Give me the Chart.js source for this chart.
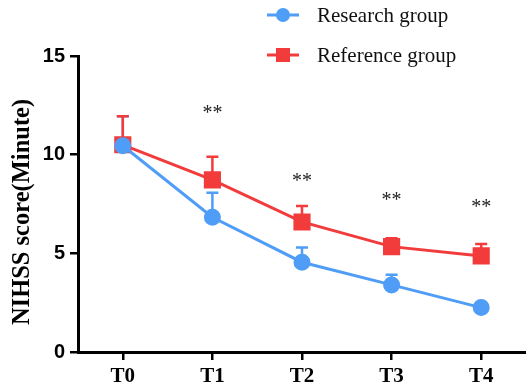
<!DOCTYPE html>
<html>
<head>
<meta charset="utf-8">
<script src="https://cdn.jsdelivr.net/npm/chart.js@4"></script>
<style>
  html, body { margin: 0; padding: 0; background: #fff; }
  #wrap { width: 526px; height: 391px; }
</style>
</head>
<body>
<div id="wrap"><canvas id="chart1"></canvas></div>
<script>
const labels = ["T0", "T1", "T2", "T3", "T4"];
const researchMean = [10.45, 6.83, 4.55, 3.4, 2.25];
const researchSD = [1.5, 1.24, 0.75, 0.52, 0.12];
const referenceMean = [10.5, 8.72, 6.59, 5.34, 4.87];
const referenceSD = [1.45, 1.18, 0.81, 0.42, 0.6];
const sigMarks = ["", "**", "**", "**", "**"];
const sigAt = [null, 12.35, 8.9, 7.93, 7.57];

const blue = "#4f9df6";
const red = "#f23b3b";

// upper error bars, drawn under the markers
const errorBars = {
  id: "errorBars",
  beforeDatasetsDraw(chart) {
    const ctx = chart.ctx;
    const y = chart.scales.y;
    chart.data.datasets.forEach((ds, i) => {
      const meta = chart.getDatasetMeta(i);
      meta.data.forEach((pt, j) => {
        const top = y.getPixelForValue(ds.data[j] + ds.sd[j]);
        ctx.save();
        ctx.strokeStyle = ds.borderColor;
        ctx.lineWidth = 2.5;
        ctx.beginPath();
        ctx.moveTo(pt.x, pt.y);
        ctx.lineTo(pt.x, top);
        ctx.moveTo(pt.x - 6, top);
        ctx.lineTo(pt.x + 6, top);
        ctx.stroke();
        ctx.restore();
      });
    });
  }
};

const extras = {
  id: "extras",
  afterDraw(chart) {
    const ctx = chart.ctx;
    const x = chart.scales.x, y = chart.scales.y;
    ctx.save();
    ctx.fillStyle = "#222";
    ctx.font = "20px 'Liberation Serif'";
    ctx.textAlign = "center";
    ctx.textBaseline = "middle";
    sigMarks.forEach((s, i) => {
      if (!s) return;
      ctx.fillText(s, x.getPixelForValue(i), y.getPixelForValue(sigAt[i]) + 5);
    });

    // y axis title
    ctx.save();
    ctx.translate(23, 212);
    ctx.rotate(-Math.PI / 2);
    ctx.fillStyle = "#000";
    ctx.font = "bold 24.5px 'Liberation Serif'";
    ctx.textAlign = "center";
    ctx.textBaseline = "middle";
    ctx.fillText("NIHSS score(Minute)", 0, 0);
    ctx.restore();

    // legend
    const items = [
      { text: "Research group", color: blue, shape: "circle", ly: 15 },
      { text: "Reference group", color: red, shape: "rect", ly: 55 }
    ];
    items.forEach(it => {
      ctx.strokeStyle = it.color;
      ctx.fillStyle = it.color;
      ctx.lineWidth = 3;
      ctx.beginPath();
      ctx.moveTo(267, it.ly);
      ctx.lineTo(299, it.ly);
      ctx.stroke();
      if (it.shape === "circle") {
        ctx.beginPath();
        ctx.arc(283, it.ly, 7, 0, Math.PI * 2);
        ctx.fill();
      } else {
        ctx.fillRect(276, it.ly - 7, 14, 14);
      }
      ctx.fillStyle = "#111";
      ctx.font = "21px 'Liberation Serif'";
      ctx.textAlign = "left";
      ctx.textBaseline = "middle";
      ctx.fillText(it.text, 317, it.ly + 1);
    });
    ctx.restore();
  }
};

new Chart(document.getElementById("chart1"), {
  type: "line",
  data: {
    labels,
    datasets: [
      {
        label: "Research group",
        data: researchMean,
        sd: researchSD,
        borderColor: blue,
        backgroundColor: blue,
        borderWidth: 3,
        pointStyle: "circle",
        pointRadius: 7,
        pointHoverRadius: 7,
        tension: 0
      },
      {
        label: "Reference group",
        data: referenceMean,
        sd: referenceSD,
        borderColor: red,
        backgroundColor: red,
        borderWidth: 3,
        pointStyle: "rect",
        pointRadius: 10,
        pointHoverRadius: 10,
        tension: 0
      }
    ]
  },
  options: {
    responsive: true,
    maintainAspectRatio: false,
    animation: false,
    layout: { autoPadding: false, padding: { top: 56, right: 0, left: 0, bottom: 0 } },
    plugins: {
      legend: { display: false },
      tooltip: { enabled: false }
    },
    scales: {
      x: {
        offset: true,
        grid: { drawOnChartArea: false, drawTicks: true, tickLength: 8, lineWidth: 2.5, color: "#000" },
        border: { display: true, width: 3, color: "#000" },
        ticks: {
          color: "#000",
          padding: 4,
          font: { family: "'Liberation Serif'", size: 21, weight: "bold" }
        },
        afterFit(s) { s.height = 39; }
      },
      y: {
        min: 0,
        max: 15,
        grid: { drawOnChartArea: false, drawTicks: true, tickLength: 8, lineWidth: 2.5, color: "#000" },
        border: { display: true, width: 3, color: "#000" },
        ticks: {
          stepSize: 5,
          color: "#000",
          padding: 5,
          font: { family: "'Liberation Sans'", size: 20, weight: "bold" }
        },
        afterFit(s) { s.width = 78; }
      }
    }
  },
  plugins: [errorBars, extras]
});
</script>
</body>
</html>
